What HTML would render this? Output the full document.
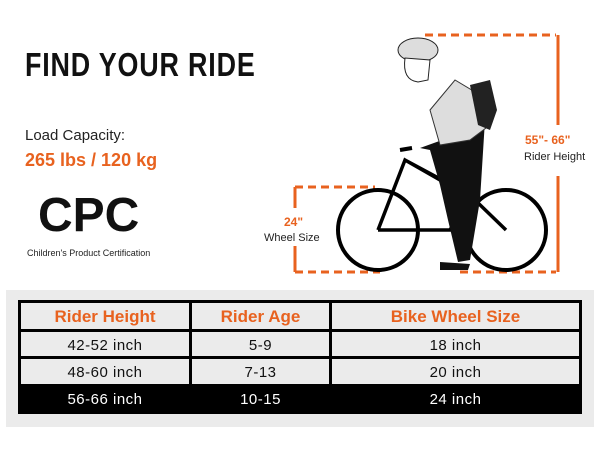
<!DOCTYPE html>
<html><head><style>
body{margin:0;width:600px;height:450px;background:#fff;position:relative;overflow:hidden;font-family:"Liberation Sans",sans-serif}
.a{position:absolute;white-space:nowrap}
.or{color:#e8621f}
table{position:absolute;left:18px;top:300px;width:564px;height:114px;border-collapse:collapse;background:#000}
td{border:3px solid #000;text-align:center;font-size:15px;letter-spacing:.5px;background:#ebebeb;color:#111;padding:0}
tr.h td{color:#e8621f;font-weight:bold;font-size:17px;letter-spacing:0;height:24px;padding-top:2px}
tr td{padding-top:2px}
tr.b td{background:#000;color:#fff}
</style></head><body>
<div style="position:absolute;left:6px;top:290px;width:588px;height:137px;background:#ebebeb"></div>
<div class="a" style="left:25px;top:46px;font-size:33px;font-weight:bold;letter-spacing:1px;transform:scaleX(.815);transform-origin:left;color:#111">FIND YOUR RIDE</div>
<div class="a" style="left:25px;top:127px;font-size:15px;color:#222">Load Capacity:</div>
<div class="a or" style="left:25px;top:150px;font-size:18px;font-weight:bold">265 lbs / 120 kg</div>
<div class="a" style="left:38px;top:188px;font-size:48px;font-weight:bold;color:#111">CPC</div>
<div class="a" style="left:27px;top:248px;font-size:9px;color:#222">Children's Product Certification</div>
<svg class="a" style="left:0;top:0" width="600" height="290">
<g stroke="#e8621f" stroke-width="3" fill="none">
<path d="M425 35H556" stroke-dasharray="8 5"/><path d="M460 272H556" stroke-dasharray="8 5"/>
<path d="M558 35V125M558 176V272"/>
<path d="M295 187H375" stroke-dasharray="8 5"/><path d="M295 272H380" stroke-dasharray="8 5"/>
<path d="M295 187V208M295 246V272"/>
</g>
<g stroke="#000" stroke-width="4" fill="none">
<circle cx="378" cy="230" r="40"/><circle cx="506" cy="230" r="40"/>
<path d="M378 230L405 160L475 200L506 230M405 160L470 195L450 230L378 230M450 230L470 195" stroke-width="3.5"/>
<path d="M400 150L412 148M470 190L480 165"/>
</g>
<path d="M420 148L470 130L485 120L480 200L470 260L458 262L448 220L440 185L430 150Z" fill="#111"/>
<path d="M430 110L455 80L480 95L490 125L470 140L440 145Z" fill="#ddd" stroke="#333"/>
<path d="M470 85L490 80L497 110L490 130L478 125Z" fill="#222"/>
<ellipse cx="418" cy="50" rx="20" ry="12" fill="#ddd" stroke="#222"/>
<path d="M405 58Q402 80 418 82L428 80L430 60Z" fill="#fff" stroke="#222"/>
<path d="M440 262L470 264L468 270L440 270Z" fill="#111"/>
</svg>
<div class="a or" style="left:525px;top:133px;font-size:12px;font-weight:bold">55"- 66"</div>
<div class="a" style="left:524px;top:151px;font-size:11px;color:#222">Rider Height</div>
<div class="a or" style="left:284px;top:215px;font-size:12px;font-weight:bold">24"</div>
<div class="a" style="left:264px;top:232px;font-size:11px;color:#222">Wheel Size</div>
<table>
<tr class="h"><td style="width:168px">Rider Height</td><td style="width:137px">Rider Age</td><td>Bike Wheel Size</td></tr>
<tr><td>42-52 inch</td><td>5-9</td><td>18 inch</td></tr>
<tr><td>48-60 inch</td><td>7-13</td><td>20 inch</td></tr>
<tr class="b"><td>56-66 inch</td><td>10-15</td><td>24 inch</td></tr>
</table>
</body></html>
